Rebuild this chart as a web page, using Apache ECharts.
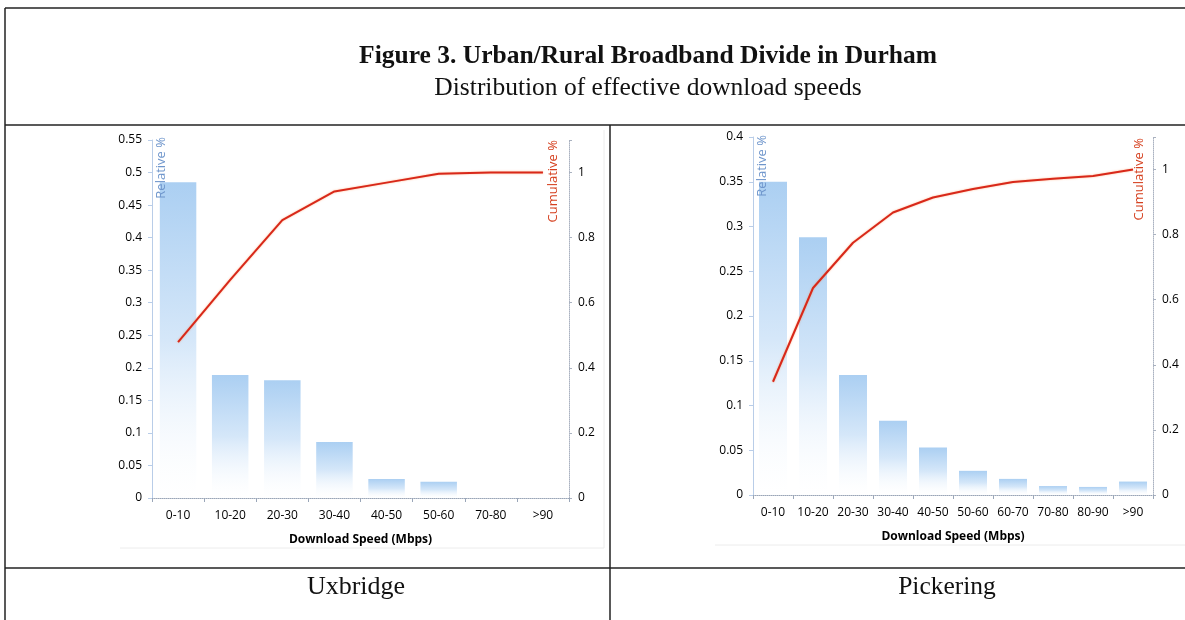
<!DOCTYPE html>
<html>
<head>
<meta charset="utf-8">
<script src="https://cdn.jsdelivr.net/npm/echarts@6/dist/echarts.min.js"></script>
<style>
html,body{margin:0;padding:0;background:#fff;}
#main{width:1185px;height:620px;}
</style>
</head>
<body>
<div id="main"></div>
<script>
// ---- Data ----
const figureTitle = 'Figure 3. Urban/Rural Broadband Divide in Durham';
const figureSubtitle = 'Distribution of effective download speeds';
const xAxisTitle = 'Download Speed (Mbps)';
const relLabel = 'Relative %';
const cumLabel = 'Cumulative %';

const uxName = 'Uxbridge';
const uxCats = ['0-10', '10-20', '20-30', '30-40', '40-50', '50-60', '70-80', '>90'];
const uxRelative = [0.485, 0.189, 0.181, 0.086, 0.029, 0.025, 0, 0];
const uxCumulative = [0.479, 0.67, 0.854, 0.942, 0.969, 0.996, 1.0, 1.0];

const pkName = 'Pickering';
const pkCats = ['0-10', '10-20', '20-30', '30-40', '40-50', '50-60', '60-70', '70-80', '80-90', '>90'];
const pkRelative = [0.35, 0.288, 0.134, 0.083, 0.053, 0.027, 0.018, 0.010, 0.009, 0.015];
const pkCumulative = [0.348, 0.636, 0.775, 0.868, 0.914, 0.94, 0.962, 0.972, 0.98, 1.0];

// ---- Styles ----
const FONT = '"Open Sans", "DejaVu Sans", sans-serif';
const SERIF = '"Liberation Serif", "DejaVu Serif", serif';
const barFill = new echarts.graphic.LinearGradient(0, 0, 0, 1, [
  {offset: 0, color: '#abcff2'},
  {offset: 0.5, color: '#d5e7f9'},
  {offset: 1, color: 'rgba(255,255,255,0.2)'}
]);
const lineColor = '#d8281a';

function xAx(gi, cats) {
  return {
    type: 'category', gridIndex: gi, data: cats,
    axisLine: {show: true, lineStyle: {color: '#9aa6b8', type: 'dotted', width: 1}},
    axisTick: {show: true, length: 4, lineStyle: {color: '#9aa6b8'}},
    axisLabel: {color: '#000', fontFamily: FONT, fontSize: 12, margin: 12, interval: 0},
    name: xAxisTitle, nameLocation: 'middle', nameGap: 36,
    nameTextStyle: {color: '#000', fontFamily: FONT, fontSize: 12, fontWeight: 'bold'}
  };
}
function yLeft(gi, max) {
  return {
    type: 'value', gridIndex: gi, min: 0, max: max, interval: 0.05,
    axisLine: {show: true, lineStyle: {color: '#b9cde8', width: 1}},
    axisTick: {show: true, length: 4, lineStyle: {color: '#b9cde8'}},
    splitLine: {show: false},
    axisLabel: {color: '#000', fontFamily: FONT, fontSize: 12, margin: 10}
  };
}
function yRight(gi) {
  return {
    type: 'value', gridIndex: gi, position: 'right', min: 0, max: 1.1, interval: 0.2,
    axisLine: {show: true, lineStyle: {color: '#aab2c0', type: 'dotted', width: 1}},
    axisTick: {show: true, length: 3, lineStyle: {color: '#aab2c0'}},
    splitLine: {show: false},
    axisLabel: {color: '#000', fontFamily: FONT, fontSize: 12, margin: 9,
      formatter: v => (v > 1.05 ? '' : String(Math.round(v * 10) / 10))}
  };
}
function barSeries(xi, yi, data) {
  return {
    type: 'bar', xAxisIndex: xi, yAxisIndex: yi, data: data,
    barCategoryGap: '30%',
    itemStyle: {color: barFill, borderWidth: 0},
    silent: true
  };
}
function lineSeries(xi, yi, data) {
  return {
    type: 'line', xAxisIndex: xi, yAxisIndex: yi, data: data,
    symbol: 'none', smooth: false, z: 5,
    lineStyle: {color: lineColor, width: 2, shadowColor: 'rgba(255,120,40,0.5)', shadowBlur: 2},
    silent: true
  };
}
function vtext(x, y, text, color, size) {
  return {type: 'text', x: x, y: y, rotation: Math.PI / 2, z: 100,
    style: {text: text, fill: color, font: size + 'px ' + FONT, textAlign: 'right', textVerticalAlign: 'top'}};
}
function line(x1, y1, x2, y2, color, w) {
  return {type: 'line', shape: {x1: x1, y1: y1, x2: x2, y2: y2}, style: {stroke: color, lineWidth: w}};
}
function ctext(x, y, text, font) {
  return {type: 'text', x: x, y: y, z: 100, style: {text: text, fill: '#111', font: font, textAlign: 'center', textVerticalAlign: 'middle'}};
}

const chart = echarts.init(document.getElementById('main'), null, {renderer: 'canvas'});
chart.setOption({
  animation: false,
  backgroundColor: '#fff',
  grid: [
    {left: 152, right: 1185 - 569, top: 140, bottom: 620 - 498},
    {left: 753, right: 1185 - 1153, top: 137, bottom: 620 - 495}
  ],
  xAxis: [xAx(0, uxCats), xAx(1, pkCats)],
  yAxis: [yLeft(0, 0.55), yRight(0), yLeft(1, 0.4), yRight(1)],
  series: [
    barSeries(0, 0, uxRelative),
    lineSeries(0, 1, uxCumulative),
    barSeries(1, 2, pkRelative),
    lineSeries(1, 3, pkCumulative)
  ],
  graphic: [
    // faint chart-image frames
    line(120, 548, 604, 548, '#ececec', 1),
    line(604, 130, 604, 548, '#ececec', 1),
    line(715, 545, 1185, 545, '#ececec', 1),
    // table borders
    line(5, 8, 1185, 8, '#222', 1.5),
    line(5, 8, 5, 620, '#222', 1.5),
    line(5, 125, 1185, 125, '#222', 1.5),
    line(5, 568, 1185, 568, '#222', 1.5),
    line(610, 125, 610, 620, '#222', 1.5),
    // titles
    ctext(648, 56, figureTitle, 'bold 25.5px ' + SERIF),
    ctext(648, 88, figureSubtitle, '25.5px ' + SERIF),
    ctext(356, 587, uxName, '26px ' + SERIF),
    ctext(947, 587, pkName, '25.5px ' + SERIF),
    // axis titles inside plots
    vtext(155, 137, relLabel, '#6f96cc', 13),
    vtext(547, 140, cumLabel, '#d5401f', 13),
    vtext(756, 135, relLabel, '#6f96cc', 13),
    vtext(1133, 138, cumLabel, '#d5401f', 13)
  ]
});
</script>
</body>
</html>
